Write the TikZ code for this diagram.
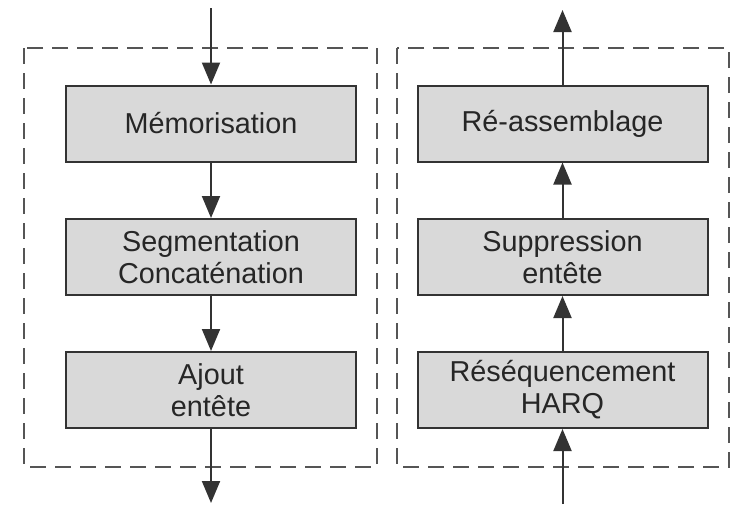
\documentclass[tikz,border=0pt]{standalone}
\usepackage{fontspec}
\setmainfont{Liberation Sans}
\usetikzlibrary{arrows.meta}
\definecolor{boxfill}{HTML}{D9D9D9}
\definecolor{boxline}{HTML}{333333}
\definecolor{dashline}{HTML}{555555}
\tikzset{every picture/.style={line width=1.5pt}}
\tikzset{
  block/.style={draw=boxline, fill=boxfill, minimum width=217.5pt, minimum height=57pt,
    inner sep=0pt, align=center, text=black!85, font=\fontsize{21.6}{24}\selectfont},
  flow/.style={draw=boxline, -{Triangle[length=16.5pt,width=13.5pt]}},
  group/.style={draw=dashline, dash pattern=on 12pt off 6.75pt}
}
\begin{document}
\begin{tikzpicture}[x=0.75pt,y=0.75pt,yscale=-1,xscale=1]
\useasboundingbox (0,0) rectangle (738,504);

%Dashed groups
\draw[group] (24,48) rectangle (377,467);
\draw[group] (397,48) rectangle (729,467);

%Emission side
\node[block] (mem) at (211,123.5) {Mémorisation};
\node[block] (seg) at (211,257) {Segmentation\\Concaténation};
\node[block] (ajout) at (211,390) {Ajout\\entête};
\coordinate (inL) at (211,8);
\coordinate (outL) at (211,503);

%Reception side
\node[block] (reas) at (562.5,123.5) {Ré-assemblage};
\node[block] (supp) at (562.5,257) {Suppression\\entête};
\node[block] (harq) at (562.5,390) {Réséquencement\\HARQ};
\coordinate (inR) at (562.5,504);
\coordinate (outR) at (562.5,10);

%Arrows
\draw[flow] (inL) -- (mem);
\draw[flow] (mem) -- (seg);
\draw[flow] (seg) -- (ajout);
\draw[flow] (ajout) -- (outL);
\draw[flow] (inR) -- (harq);
\draw[flow] (harq) -- (supp);
\draw[flow] (supp) -- (reas);
\draw[flow] (reas) -- (outR);

\end{tikzpicture}
\end{document}
